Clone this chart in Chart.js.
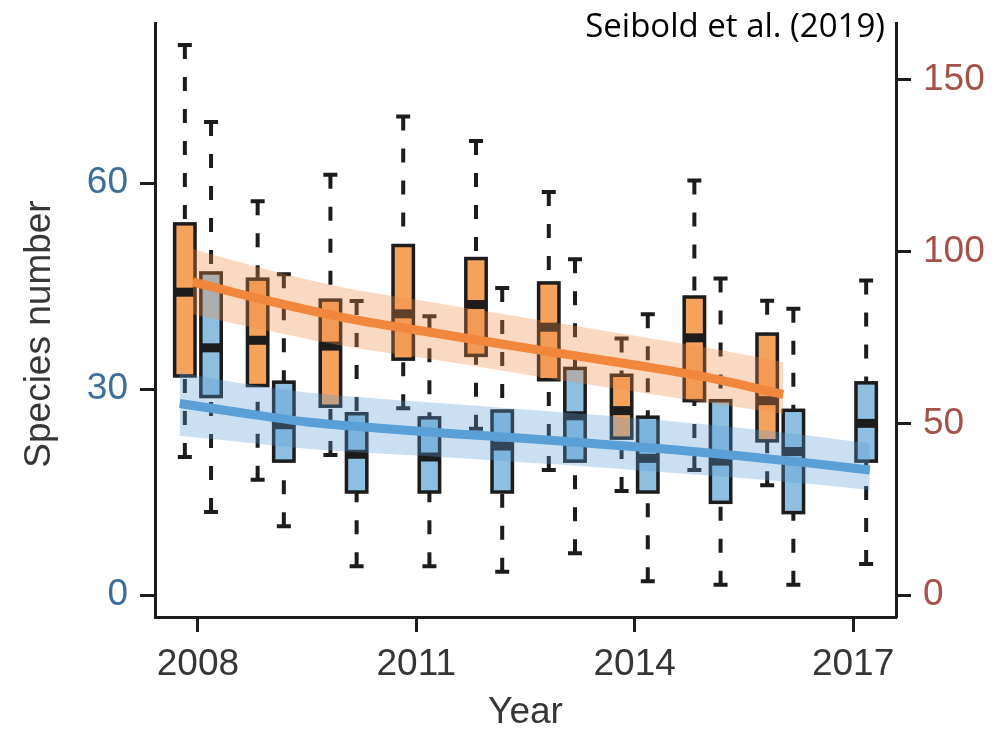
<!DOCTYPE html>
<html>
<head>
<meta charset="utf-8">
<title>Species number by year</title>
<script src="https://cdn.jsdelivr.net/npm/chart.js@4"></script>
<style>
  html, body { margin: 0; padding: 0; background: #fff; }
  canvas { display: block; }
</style>
</head>
<body>
<canvas id="speciesChart" width="999" height="735"></canvas>
<script>
// --- Data ---
// Orange boxes: right axis
const ORANGE_YEARS = [2008, 2009, 2010, 2011, 2012, 2013, 2014, 2015, 2016];
const ORANGE_MAX = [160.2, 114.7, 122.4, 139.4, 132.2, 117.4, 74.7, 120.7, 85.7];
const ORANGE_Q3  = [108.1, 92.0, 85.9, 101.8, 98.0, 90.9, 64.0, 86.8, 76.0];
const ORANGE_MED = [88.2, 74.2, 72.5, 81.9, 84.6, 78.0, 53.7, 74.9, 56.6];
const ORANGE_Q1  = [63.8, 61.0, 55.0, 68.7, 69.8, 62.7, 45.7, 56.6, 44.9];
const ORANGE_MIN = [40.2, 33.6, 40.8, 54.4, 48.4, 36.4, 30.3, 36.4, 32.0];

// Blue boxes: left axis
const BLUE_YEARS = [2008, 2009, 2010, 2011, 2012, 2013, 2014, 2015, 2016, 2017];
const BLUE_MAX = [68.9, 46.7, 42.8, 40.6, 44.7, 48.9, 40.9, 46.1, 41.7, 45.8];
const BLUE_Q3  = [46.9, 31.0, 26.4, 25.8, 26.8, 33.0, 25.9, 28.3, 26.9, 30.9];
const BLUE_MED = [36.0, 24.8, 20.5, 20.1, 21.7, 26.1, 19.9, 19.5, 20.9, 25.0];
const BLUE_Q1  = [28.9, 19.5, 15.0, 15.0, 15.0, 19.5, 15.0, 13.5, 12.0, 19.5];
const BLUE_MIN = [12.1, 10.0, 4.2, 4.2, 3.4, 6.1, 2.0, 1.5, 1.5, 4.5];

// Fitted trends and their confidence bands
const ORANGE_FIT_X  = [2007.93, 2009, 2010, 2011, 2012, 2013, 2014, 2015, 2016.04];
const ORANGE_FIT    = [91.2, 85.5, 80.8, 77.2, 73.7, 70.3, 67.0, 63.4, 58.4];
const ORANGE_UPPER  = [100.8, 94.5, 89.5, 86.0, 82.5, 79.0, 75.5, 72.0, 67.9];
const ORANGE_LOWER  = [81.8, 76.8, 72.5, 69.3, 66.0, 62.5, 59.3, 56.0, 52.8];

const BLUE_FIT_X = [2007.75, 2008.5, 2009.5, 2010.5, 2011.5, 2012.5, 2013.5, 2014.5, 2015.5, 2016.5, 2017.23];
const BLUE_FIT   = [27.9, 26.7, 25.2, 24.3, 23.5, 22.8, 22.0, 21.2, 20.2, 19.1, 18.2];
const BLUE_UPPER = [32.4, 31.0, 29.5, 28.6, 27.8, 27.0, 26.2, 25.3, 24.3, 23.1, 22.1];
const BLUE_LOWER = [23.2, 22.4, 21.3, 20.6, 20.0, 19.3, 18.6, 17.8, 17.0, 16.1, 15.3];

const X_TICKS = [2008, 2011, 2014, 2017];
const LEFT_TICKS = [0, 30, 60];
const RIGHT_TICKS = [0, 50, 100, 150];

// --- Style ---
const INK = "#1c1c1c";
const TEXT = "#363636";
const ORANGE_BOX = "#f5a25b";
const BLUE_BOX = "#8dbfe0";
const ORANGE_LINE = "#f0873c";
const BLUE_LINE = "#5aa0d7";
const ORANGE_BAND = "rgba(240,140,70,0.33)";
const BLUE_BAND = "rgba(90,160,215,0.32)";
const BOX_SHIFT = 0.18;
const BOX_HALF = 0.14;
const FONT = "'Liberation Sans', Arial, Helvetica, sans-serif";

Chart.defaults.font.family = FONT;

const pts = (xs, ys) => xs.map((x, i) => ({ x, y: ys[i] }));

function drawBoxes(chart, set, shift, axisId, fill) {
    const ctx = chart.ctx;
    const xs = chart.scales.x;
    const ys = chart.scales[axisId];
    ctx.save();
    set.years.forEach((yr, i) => {
        const cx = xs.getPixelForValue(yr + shift);
        const hw = xs.getPixelForValue(yr + shift + BOX_HALF) - cx;
        const capW = 7;
        const pMax = ys.getPixelForValue(set.max[i]);
        const pQ3 = ys.getPixelForValue(set.q3[i]);
        const pMed = ys.getPixelForValue(set.med[i]);
        const pQ1 = ys.getPixelForValue(set.q1[i]);
        const pMin = ys.getPixelForValue(set.min[i]);

        // dashed whiskers, starting at the caps
        ctx.strokeStyle = INK;
        ctx.lineWidth = 4;
        ctx.setLineDash([14, 18]);
        ctx.beginPath();
        ctx.moveTo(cx, pMax);
        ctx.lineTo(cx, pQ3);
        ctx.stroke();
        ctx.beginPath();
        ctx.moveTo(cx, pMin);
        ctx.lineTo(cx, pQ1);
        ctx.stroke();
        ctx.setLineDash([]);

        // caps
        ctx.beginPath();
        ctx.moveTo(cx - capW, pMax);
        ctx.lineTo(cx + capW, pMax);
        ctx.moveTo(cx - capW, pMin);
        ctx.lineTo(cx + capW, pMin);
        ctx.stroke();

        // box
        ctx.fillStyle = fill;
        ctx.fillRect(cx - hw, pQ3, hw * 2, pQ1 - pQ3);
        ctx.lineWidth = 3.5;
        ctx.strokeRect(cx - hw, pQ3, hw * 2, pQ1 - pQ3);

        // median
        ctx.lineWidth = 9;
        ctx.beginPath();
        ctx.moveTo(cx - hw, pMed);
        ctx.lineTo(cx + hw, pMed);
        ctx.stroke();
    });
    ctx.restore();
}

const boxPlugin = {
    id: "boxPlots",
    beforeDatasetsDraw(chart) {
        drawBoxes(chart,
            { years: ORANGE_YEARS, max: ORANGE_MAX, q3: ORANGE_Q3, med: ORANGE_MED, q1: ORANGE_Q1, min: ORANGE_MIN },
            -BOX_SHIFT, "y2", ORANGE_BOX);
        drawBoxes(chart,
            { years: BLUE_YEARS, max: BLUE_MAX, q3: BLUE_Q3, med: BLUE_MED, q1: BLUE_Q1, min: BLUE_MIN },
            BOX_SHIFT, "y", BLUE_BOX);
    },
};

const textPlugin = {
    id: "extraText",
    afterDraw(chart) {
        const ctx = chart.ctx;
        ctx.save();
        // left axis title (sits a little below the plot centre in the original)
        ctx.translate(50, 334);
        ctx.rotate(-Math.PI / 2);
        ctx.font = "37px " + FONT;
        ctx.fillStyle = TEXT;
        ctx.textAlign = "center";
        ctx.textBaseline = "alphabetic";
        ctx.fillText("Species number", 0, 0);
        ctx.restore();

        ctx.save();
        ctx.font = "33px 'Open Sans', 'Noto Sans', sans-serif";
        ctx.fillStyle = "#000";
        ctx.textAlign = "right";
        ctx.textBaseline = "alphabetic";
        ctx.fillText("Seibold et al. (2019)", 885, 37);
        ctx.restore();
    },
};

// keep the plot frame exactly where the original has it
function noOverflow(s) {
    s.paddingTop = 0;
    s.paddingBottom = 0;
    s.paddingLeft = 0;
    s.paddingRight = 0;
}

const tickGrid = {
    display: true,
    drawOnChartArea: false,
    drawTicks: true,
    tickLength: 15,
    tickWidth: 3,
    tickColor: INK,
};
const axisBorder = { display: true, color: INK, width: 3 };

new Chart(document.getElementById("speciesChart"), {
    type: "line",
    data: {
        datasets: [
            {
                label: "orange trend",
                data: pts(ORANGE_FIT_X, ORANGE_FIT),
                yAxisID: "y2",
                borderColor: ORANGE_LINE,
                borderWidth: 9,
                pointRadius: 0,
                cubicInterpolationMode: "monotone",
                fill: false,
                order: 0,
            },
            {
                label: "blue trend",
                data: pts(BLUE_FIT_X, BLUE_FIT),
                yAxisID: "y",
                borderColor: BLUE_LINE,
                borderWidth: 9,
                pointRadius: 0,
                cubicInterpolationMode: "monotone",
                fill: false,
                order: 1,
            },
            {
                label: "orange upper",
                data: pts(ORANGE_FIT_X, ORANGE_UPPER),
                yAxisID: "y2",
                borderWidth: 0,
                pointRadius: 0,
                cubicInterpolationMode: "monotone",
                backgroundColor: ORANGE_BAND,
                fill: "+1",
                order: 2,
            },
            {
                label: "orange lower",
                data: pts(ORANGE_FIT_X, ORANGE_LOWER),
                yAxisID: "y2",
                borderWidth: 0,
                pointRadius: 0,
                cubicInterpolationMode: "monotone",
                fill: false,
                order: 3,
            },
            {
                label: "blue upper",
                data: pts(BLUE_FIT_X, BLUE_UPPER),
                yAxisID: "y",
                borderWidth: 0,
                pointRadius: 0,
                cubicInterpolationMode: "monotone",
                backgroundColor: BLUE_BAND,
                fill: "+1",
                order: 4,
            },
            {
                label: "blue lower",
                data: pts(BLUE_FIT_X, BLUE_LOWER),
                yAxisID: "y",
                borderWidth: 0,
                pointRadius: 0,
                cubicInterpolationMode: "monotone",
                fill: false,
                order: 5,
            },
        ],
    },
    options: {
        responsive: false,
        animation: false,
        events: [],
        devicePixelRatio: 1,
        layout: { padding: { top: 23, left: 0, right: 0, bottom: 0 } },
        plugins: {
            legend: { display: false },
            tooltip: { enabled: false },
        },
        scales: {
            x: {
                type: "linear",
                position: "bottom",
                min: 2007.41,
                max: 2017.59,
                afterBuildTicks: (s) => { s.ticks = X_TICKS.map((v) => ({ value: v })); },
                afterFit: (s) => { s.height = 118; noOverflow(s); },
                grid: tickGrid,
                border: axisBorder,
                ticks: {
                    autoSkip: false,
                    maxRotation: 0,
                    padding: 11,
                    color: TEXT,
                    font: { size: 37 },
                    callback: (v) => String(v),
                },
                title: {
                    display: true,
                    text: "Year",
                    color: TEXT,
                    font: { size: 37 },
                    padding: { top: 0, bottom: 0 },
                },
            },
            y: {
                type: "linear",
                position: "left",
                min: -3.2,
                max: 83.3,
                afterBuildTicks: (s) => { s.ticks = LEFT_TICKS.map((v) => ({ value: v })); },
                afterFit: (s) => { s.width = 155; noOverflow(s); },
                grid: tickGrid,
                border: axisBorder,
                ticks: {
                    padding: 12,
                    color: "#3d6f98",
                    font: { size: 37 },
                    callback: (v) => String(v),
                },
            },
            y2: {
                type: "linear",
                position: "right",
                min: -6.4,
                max: 166.6,
                afterBuildTicks: (s) => { s.ticks = RIGHT_TICKS.map((v) => ({ value: v })); },
                afterFit: (s) => { s.width = 103; noOverflow(s); },
                grid: tickGrid,
                border: axisBorder,
                ticks: {
                    padding: 12,
                    color: "#a5524a",
                    font: { size: 37 },
                    callback: (v) => String(v),
                },
            },
        },
    },
    plugins: [boxPlugin, textPlugin],
});
</script>
</body>
</html>
